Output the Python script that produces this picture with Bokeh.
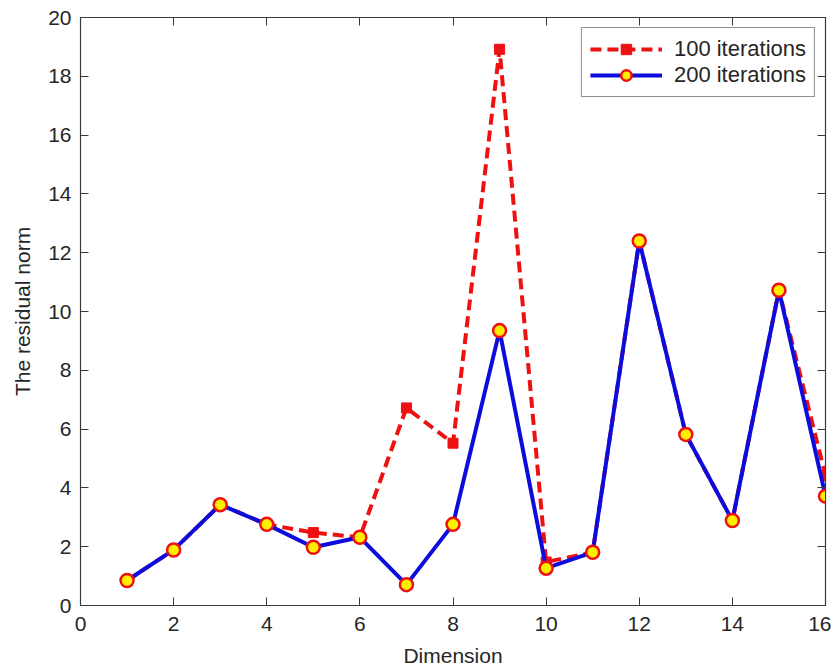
from bokeh.plotting import figure
from bokeh.models import Range1d, LinearAxis, FixedTicker, Legend, LegendItem
from bokeh.embed import file_html
from bokeh.resources import INLINE

dimension = list(range(1, 17))
res_100 = [0.85, 1.89, 3.43, 2.76, 2.48, 2.32, 6.72, 5.52, 18.92, 1.48, 1.81, 12.40, 5.82, 2.89, 10.72, 4.42]
res_200 = [0.85, 1.89, 3.43, 2.76, 1.98, 2.32, 0.71, 2.76, 9.35, 1.27, 1.81, 12.40, 5.82, 2.89, 10.72, 3.72]
x_ticks = list(range(0, 17, 2))
y_ticks = list(range(0, 21, 2))

FONT = "Liberation Sans"
FS = "21px"
TXT = "#262626"
AX = "#3a3a3a"

p = figure(width=831, height=663, output_backend="svg", toolbar_location=None,
           x_range=Range1d(0, 16), y_range=Range1d(0, 20),
           frame_width=745, frame_height=588,
           min_border_left=80, min_border_right=6, min_border_top=17, min_border_bottom=58)
p.grid.visible = False
p.outline_line_color = AX
p.outline_line_width = 1.2

for ax, ticks in ((p.xaxis[0], x_ticks), (p.yaxis[0], y_ticks)):
    ax.ticker = FixedTicker(ticks=ticks)
    ax.major_tick_in = 8
    ax.major_tick_out = 0
    ax.minor_tick_line_color = None
    ax.axis_line_color = AX
    ax.major_tick_line_color = AX
    ax.major_label_text_font = FONT
    ax.major_label_text_font_size = FS
    ax.major_label_text_color = TXT
    ax.axis_label_text_font = FONT
    ax.axis_label_text_font_size = FS
    ax.axis_label_text_font_style = "normal"
    ax.axis_label_text_color = TXT

p.xaxis[0].axis_label = "Dimension"
p.xaxis[0].major_label_standoff = 11
p.xaxis[0].axis_label_standoff = 10
p.yaxis[0].axis_label = "The residual norm"
p.yaxis[0].major_label_standoff = 9
p.yaxis[0].axis_label_standoff = 11

for loc, ticks in (("right", y_ticks), ("above", x_ticks)):
    a = LinearAxis(ticker=FixedTicker(ticks=ticks), major_tick_in=8, major_tick_out=0,
                   minor_tick_line_color=None, axis_line_color=AX, major_tick_line_color=AX,
                   major_label_text_font_size="0px", major_label_standoff=0)
    a.major_label_text_color = None
    p.add_layout(a, loc)

l1 = p.line(dimension, res_100, line_color="#ee1111", line_width=4, line_dash="11 6")
m1 = p.scatter(dimension, res_100, marker="square", size=10, fill_color="#ee1111",
               line_color="#ee1111")
l2 = p.line(dimension, res_200, line_color="#0c0cdc", line_width=4)
m2 = p.scatter(dimension, res_200, marker="circle", size=13, fill_color="#ffee00",
               line_color="#ee1111", line_width=2.5)

legend = Legend(items=[LegendItem(label="100 iterations", renderers=[l1, m1]),
                       LegendItem(label="200 iterations", renderers=[l2, m2])],
                location="top_right")
legend.margin = 10
legend.padding = 8
legend.spacing = 0
legend.glyph_width = 72
legend.glyph_height = 26
legend.label_height = 26
legend.label_standoff = 12
legend.label_text_font = FONT
legend.label_text_font_size = "22px"
legend.label_text_color = TXT
legend.border_line_color = "#222222"
legend.border_line_width = 1.2
legend.background_fill_alpha = 1.0
p.add_layout(legend)

open("out.html", "w").write(file_html(p, INLINE))
